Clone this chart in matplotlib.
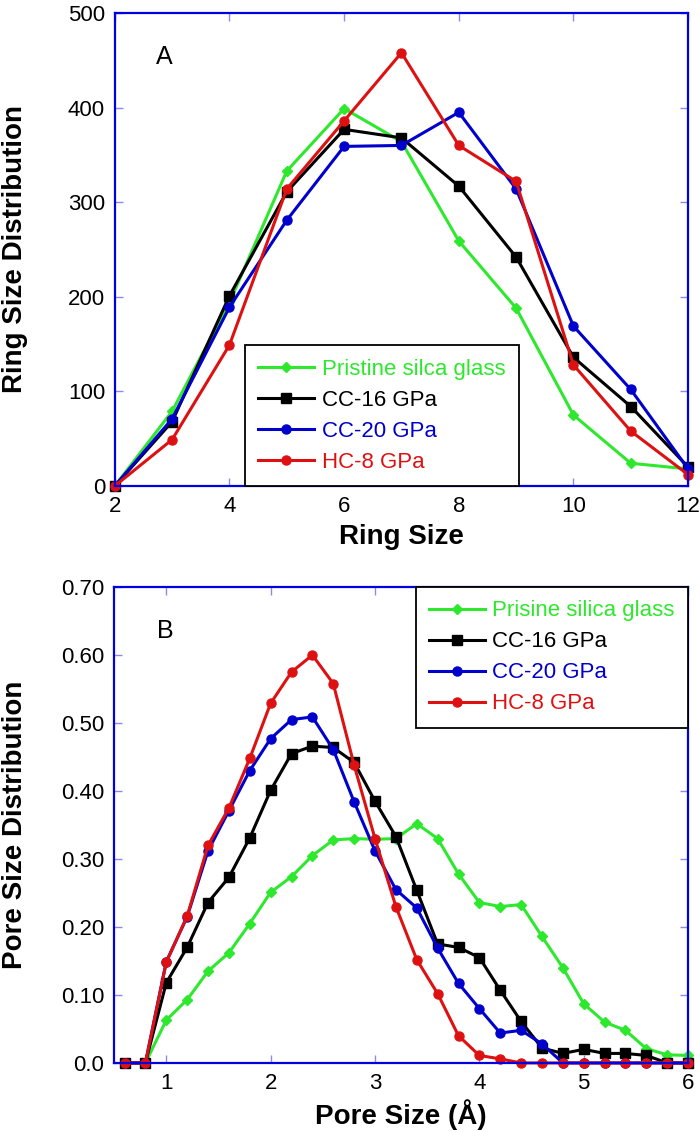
import matplotlib.pyplot as plt
import numpy as np

plt.rcParams['font.family'] = ['Liberation Sans', 'DejaVu Sans']

# ring size distribution (panel A)
ring_size = [2, 3, 4, 5, 6, 7, 8, 9, 10, 11, 12]
ring_pristine = [0, 79, 194, 333, 399, 364, 259, 188, 75, 24, 18]
ring_cc16 = [0, 68, 201, 311, 377, 368, 317, 242, 136, 84, 20]
ring_cc20 = [0, 71, 189, 281, 359, 360, 395, 314, 169, 102, 18]
ring_hc8 = [0, 49, 149, 314, 386, 458, 360, 322, 128, 58, 12]

# pore size distribution (panel B)
pore_size = np.round(np.arange(0.6, 6.01, 0.2), 1)
pore_pristine = [0, 0, 0.063, 0.093, 0.135, 0.162, 0.205, 0.251, 0.274, 0.305,
                 0.328, 0.330, 0.329, 0.330, 0.352, 0.330, 0.278, 0.236, 0.230,
                 0.233, 0.186, 0.140, 0.087, 0.060, 0.048, 0.021, 0.012, 0.011]
pore_cc16 = [0, 0, 0.118, 0.170, 0.236, 0.273, 0.331, 0.401, 0.455, 0.466,
             0.464, 0.442, 0.385, 0.333, 0.254, 0.175, 0.170, 0.155, 0.107,
             0.061, 0.022, 0.014, 0.020, 0.014, 0.014, 0.011, 0, 0]
pore_cc20 = [0, 0, 0.149, 0.215, 0.312, 0.371, 0.430, 0.477, 0.505, 0.509,
             0.461, 0.384, 0.312, 0.255, 0.228, 0.169, 0.117, 0.080, 0.044,
             0.048, 0.028, 0, 0, 0, 0, 0, 0, 0]
pore_hc8 = [0, 0, 0.148, 0.216, 0.320, 0.375, 0.448, 0.529, 0.575, 0.600,
            0.558, 0.438, 0.330, 0.230, 0.152, 0.102, 0.040, 0.011, 0.006,
            0, 0, 0, 0, 0, 0, 0, 0, 0]

GREEN = '#2ee82e'
BLUE = '#0000cc'
RED = '#dd1111'
SPINE = '#0000e0'
TICK = '#8c8ce6'

fig = plt.figure(figsize=(7, 11.32), dpi=100)
axA = fig.add_axes([0.164, 0.5707, 0.819, 0.4178])
axB = fig.add_axes([0.163, 0.061, 0.820, 0.4204])


def style(ax):
    for s in ax.spines.values():
        s.set_color(SPINE)
        s.set_linewidth(1.6)
    ax.tick_params(direction='in', length=6, width=1, color=TICK,
                   top=True, right=True, labelsize=16, pad=7)


def series(ax, x, ys, labels):
    styles = [('D', GREEN, 5.2), ('s', 'black', 6.5), ('o', BLUE, 6.5), ('o', RED, 6.5)]
    for y, lab, (m, c, ms) in zip(ys, labels, styles):
        ax.plot(x, y, marker=m, color=c, ms=ms, lw=2.2, label=lab, clip_on=False)


def legend(ax, **kw):
    leg = ax.legend(borderaxespad=0, fontsize=16, handlelength=2.5,
                    handletextpad=0.35, labelspacing=0.45, borderpad=0.6,
                    fancybox=False, edgecolor='black', framealpha=1, **kw)
    leg.get_frame().set_linewidth(1.3)
    for txt, line in zip(leg.get_texts(), leg.get_lines()):
        txt.set_color(line.get_color())
    return leg


series(axA, ring_size, [ring_pristine, ring_cc16, ring_cc20, ring_hc8],
       ['Pristine silca glass', 'CC-16 GPa', 'CC-20 GPa', 'HC-8 GPa'])
axA.set_xlim(2, 12)
axA.set_ylim(0, 500)
axA.set_xticks(range(2, 13, 2))
axA.set_yticks(range(0, 501, 100))
style(axA)
axA.set_xlabel('Ring Size', fontsize=20, fontweight='bold')
axA.set_ylabel('Ring Size Distribution', fontsize=20, fontweight='bold')
axA.xaxis.set_label_coords(0.5, -0.08)
axA.yaxis.set_label_coords(-0.152, 0.5)
axA.text(2.87, 453, 'A', fontsize=18, ha='center', va='center')
legend(axA, loc='lower left', bbox_to_anchor=(0.227, 0.0))

series(axB, pore_size, [pore_pristine, pore_cc16, pore_cc20, pore_hc8],
       ['Prisine silica glass', 'CC-16 GPa', 'CC-20 GPa', 'HC-8 GPa'])
axB.set_xlim(0.5, 6)
axB.set_ylim(0, 0.7)
axB.set_xticks(range(1, 7))
yt = np.round(np.arange(0, 0.71, 0.1), 1)
axB.set_yticks(yt)
axB.set_yticklabels(['0.0'] + ['%.2f' % v for v in yt[1:]])
style(axB)
axB.set_xlabel('Pore Size (Å)', fontsize=20, fontweight='bold')
axB.set_ylabel('Pore Size Distribution', fontsize=20, fontweight='bold')
axB.xaxis.set_label_coords(0.5, -0.077)
axB.yaxis.set_label_coords(-0.15, 0.5)
axB.text(0.99, 0.635, 'B', fontsize=18, ha='center', va='center')
legend(axB, loc='upper right', bbox_to_anchor=(1.0, 1.0))

fig.savefig('out.png', dpi=100)
